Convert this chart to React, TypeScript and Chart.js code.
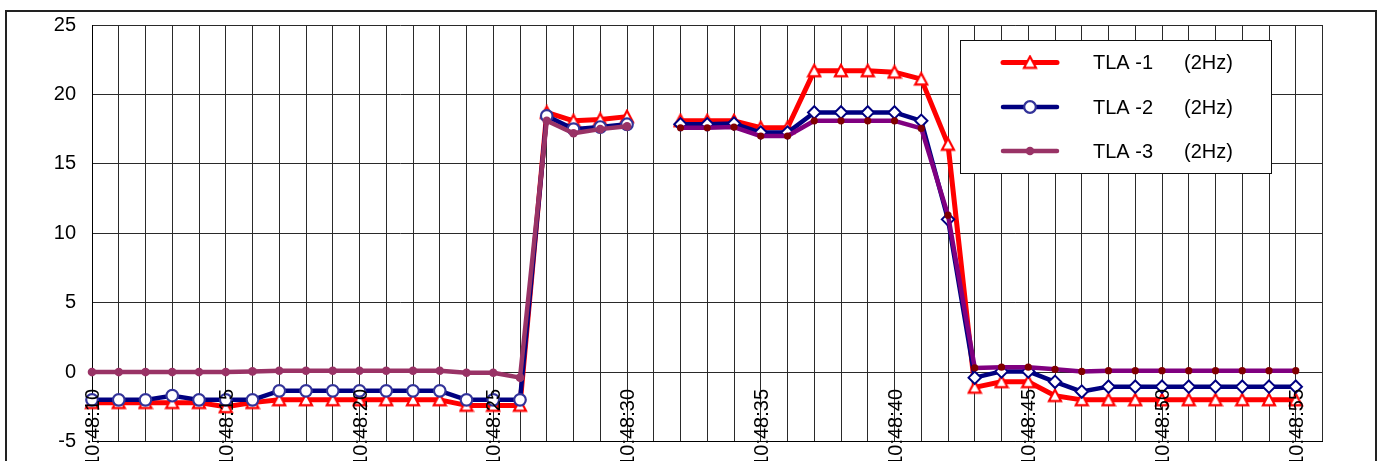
import React, { useEffect, useRef } from "react";
import { Chart, registerables } from "chart.js";

Chart.register(...registerables);

// Sample times (one reading per second)
const TIMES = [
  "10:48:10", "10:48:11", "10:48:12", "10:48:13", "10:48:14", "10:48:15",
  "10:48:16", "10:48:17", "10:48:18", "10:48:19", "10:48:20", "10:48:21",
  "10:48:22", "10:48:23", "10:48:24", "10:48:25", "10:48:26", "10:48:27",
  "10:48:28", "10:48:29", "10:48:30", "10:48:31", "10:48:32", "10:48:33",
  "10:48:34", "10:48:35", "10:48:36", "10:48:37", "10:48:38", "10:48:39",
  "10:48:40", "10:48:41", "10:48:42", "10:48:43", "10:48:44", "10:48:45",
  "10:48:46", "10:48:47", "10:48:48", "10:48:49", "10:48:50", "10:48:51",
  "10:48:52", "10:48:53", "10:48:54", "10:48:55", "10:48:56",
];

// Labelled times on the horizontal axis
const TICK_LABELS = [
  "10:48:10", "10:48:15", "10:48:20", "10:48:25", "10:48:30",
  "10:48:35", "10:48:40", "10:48:45", "10:48:50", "10:48:55",
];

const TLA1 = [
  -2.2, -2.2, -2.2, -2.2, -2.2, -2.5, -2.2, -2.0, -2.0, -2.0, -2.0, -2.0,
  -2.0, -2.0, -2.4, -2.4, -2.4, 18.7, 18.1, 18.2, 18.4, null, 18.1, 18.1,
  18.1, 17.6, 17.6, 21.7, 21.7, 21.7, 21.6, 21.1, 16.4, -1.1, -0.7, -0.7,
  -1.7, -2.0, -2.0, -2.0, -2.0, -2.0, -2.0, -2.0, -2.0, -2.0, null,
];

const TLA2 = [
  -2.0, -2.0, -2.0, -1.7, -2.0, -2.0, -2.0, -1.35, -1.35, -1.35, -1.35, -1.35,
  -1.35, -1.35, -2.0, -2.0, -2.0, 18.45, 17.5, 17.65, 17.85, null, 17.85, 17.85,
  17.9, 17.25, 17.25, 18.7, 18.7, 18.7, 18.7, 18.1, 11.0, -0.4, 0.05, 0.05,
  -0.7, -1.4, -1.05, -1.05, -1.05, -1.05, -1.05, -1.05, -1.05, -1.05, null,
];

const TLA3 = [
  0.0, 0.0, 0.0, 0.0, 0.0, 0.0, 0.05, 0.1, 0.1, 0.1, 0.1, 0.1,
  0.1, 0.1, -0.05, -0.05, -0.4, 18.1, 17.2, 17.5, 17.7, null, 17.6, 17.6,
  17.65, 17.0, 17.0, 18.1, 18.1, 18.1, 18.1, 17.55, 11.3, 0.3, 0.35, 0.35,
  0.2, 0.05, 0.1, 0.1, 0.1, 0.1, 0.1, 0.1, 0.1, 0.1, null,
];

const SERIES_NAMES = ["TLA -1", "TLA -2", "TLA -3"];
const RATE_LABEL = "(2Hz)";

const Y_MIN = -5;
const Y_MAX = 25;
const Y_STEP = 5;

const FONT = "'Liberation Sans', Arial, Helvetica, sans-serif";
const RED = "#ff0000";
const NAVY = "#000080";
const RING = "#333399";
const MAUVE = "#993366";
const PURPLE = "#800080";
const MAROON = "#800000";
const GRID = "#2a2a2a";

// Triangle marker, centred on its bounding box
function makeTriangle(): HTMLCanvasElement {
  const c = document.createElement("canvas");
  c.width = 16;
  c.height = 16;
  const g = c.getContext("2d") as CanvasRenderingContext2D;
  g.beginPath();
  g.moveTo(8, 2);
  g.lineTo(14, 13.3);
  g.lineTo(2, 13.3);
  g.closePath();
  g.fillStyle = "#ffffff";
  g.fill();
  g.lineWidth = 2.2;
  g.strokeStyle = RED;
  g.stroke();
  return c;
}

export default function App() {
  const ref = useRef<HTMLCanvasElement | null>(null);

  useEffect(() => {
    const canvas = ref.current;
    if (!canvas) return;

    const tri = makeTriangle();
    // the second recording run starts after the missing sample
    const run2 = TLA1.indexOf(null) + 1;
    const late = (i: number) => i >= run2;

    const framePlugin = {
      id: "frame",
      beforeDraw(chart: any) {
        const ctx = chart.ctx;
        ctx.save();
        ctx.fillStyle = "#ffffff";
        ctx.fillRect(0, 0, chart.width, chart.height);
        ctx.strokeStyle = "#222222";
        ctx.lineWidth = 2;
        ctx.strokeRect(6, 11, 1370, 520);
        ctx.restore();
      },
    };

    const overlayPlugin = {
      id: "overlay",
      afterDatasetsDraw(chart: any) {
        const ctx = chart.ctx;
        const xs = chart.scales.x;
        ctx.save();

        // rotated time labels
        ctx.fillStyle = "#000000";
        ctx.font = `20px ${FONT}`;
        ctx.textAlign = "right";
        ctx.textBaseline = "middle";
        TICK_LABELS.forEach((t) => {
          const x = xs.getPixelForValue(TIMES.indexOf(t));
          ctx.save();
          ctx.translate(x + 1.5, 389);
          ctx.rotate(-Math.PI / 2);
          ctx.fillText(t, 0, 0);
          ctx.restore();
        });

        // legend box
        const bx = 960.5, by = 40.5, bw = 311, bh = 133;
        ctx.fillStyle = "#ffffff";
        ctx.fillRect(bx, by, bw, bh);
        ctx.strokeStyle = "#111111";
        ctx.lineWidth = 1;
        ctx.strokeRect(bx, by, bw, bh);

        const rows = [62.5, 107, 151];
        const lineCols = [RED, NAVY, MAUVE];
        rows.forEach((ry, k) => {
          ctx.strokeStyle = lineCols[k];
          ctx.lineWidth = k === 0 ? 5 : 4.5;
          ctx.lineCap = "round";
          ctx.beginPath();
          ctx.moveTo(1003, ry);
          ctx.lineTo(1057, ry);
          ctx.stroke();
          if (k === 0) {
            ctx.drawImage(tri, 1030 - 8, ry - 8);
          } else if (k === 1) {
            ctx.beginPath();
            ctx.arc(1030, ry, 5.8, 0, Math.PI * 2);
            ctx.fillStyle = "#ffffff";
            ctx.fill();
            ctx.lineWidth = 2.2;
            ctx.strokeStyle = RING;
            ctx.stroke();
          } else {
            ctx.beginPath();
            ctx.arc(1030, ry, 4.3, 0, Math.PI * 2);
            ctx.fillStyle = MAUVE;
            ctx.fill();
          }
          ctx.fillStyle = "#000000";
          ctx.textAlign = "left";
          ctx.textBaseline = "middle";
          ctx.fillText(SERIES_NAMES[k], 1093, ry + 1);
          ctx.fillText(RATE_LABEL, 1184, ry + 1);
        });
        ctx.restore();
      },
    };

    const chart = new Chart(canvas, {
      type: "line",
      data: {
        labels: TIMES,
        datasets: [
          {
            label: SERIES_NAMES[0],
            data: TLA1,
            order: 3,
            borderColor: RED,
            borderWidth: 5,
            pointStyle: tri as any,
            pointRadius: 7,
            clip: false as any,
            spanGaps: false,
            tension: 0,
            borderJoinStyle: "round",
          },
          {
            label: SERIES_NAMES[1],
            data: TLA2,
            order: 2,
            borderColor: NAVY,
            borderWidth: 4.5,
            pointStyle: TLA2.map((_, i) => (late(i) ? "rectRot" : "circle")) as any,
            pointRadius: TLA2.map((_, i) => (late(i) ? 6.2 : 5.8)),
            pointBorderWidth: TLA2.map((_, i) => (late(i) ? 2 : 2.2)),
            pointBorderColor: TLA2.map((_, i) => (late(i) ? NAVY : RING)),
            pointBackgroundColor: "#ffffff",
            clip: false as any,
            spanGaps: false,
            tension: 0,
            borderJoinStyle: "round",
          },
          {
            label: SERIES_NAMES[2],
            data: TLA3,
            order: 1,
            borderColor: MAUVE,
            borderWidth: 4.5,
            segment: {
              borderColor: (c: any) => (late(c.p0DataIndex) ? PURPLE : MAUVE),
            },
            pointStyle: "circle",
            pointRadius: TLA3.map((_, i) => (late(i) ? 3.6 : 4.3)),
            pointBorderWidth: 0,
            pointBackgroundColor: TLA3.map((_, i) => (late(i) ? MAROON : MAUVE)),
            pointBorderColor: TLA3.map((_, i) => (late(i) ? MAROON : MAUVE)),
            clip: false as any,
            spanGaps: false,
            tension: 0,
            borderJoinStyle: "round",
          },
        ],
      },
      options: {
        responsive: false,
        animation: false,
        devicePixelRatio: 1,
        events: [],
        layout: { padding: { left: 0, right: 58.5, top: 25, bottom: 19.5 } },
        plugins: {
          legend: { display: false },
          tooltip: { enabled: false },
        },
        scales: {
          x: {
            type: "category",
            offset: false,
            grid: { color: GRID, lineWidth: 1, drawTicks: false },
            border: { color: "#000000", width: 1 },
            ticks: { display: false, autoSkip: false },
            afterFit: (s: any) => {
              s.height = 0;
            },
          },
          y: {
            min: Y_MIN,
            max: Y_MAX,
            grid: { color: GRID, lineWidth: 1, drawTicks: false },
            border: { color: "#000000", width: 1 },
            ticks: {
              stepSize: Y_STEP,
              color: "#000000",
              padding: 16,
              font: { family: FONT, size: 20 },
            },
            afterFit: (s: any) => {
              s.width = 92;
              s.paddingTop = 0;
              s.paddingBottom = 0;
            },
          },
        },
      },
      plugins: [framePlugin, overlayPlugin],
    });

    return () => chart.destroy();
  }, []);

  return (
    <div
      style={{
        position: "fixed",
        left: 0,
        top: 0,
        width: 1381,
        height: 461,
        background: "#ffffff",
        overflow: "hidden",
      }}
    >
      <canvas ref={ref} width={1381} height={461} style={{ display: "block" }} />
    </div>
  );
}
